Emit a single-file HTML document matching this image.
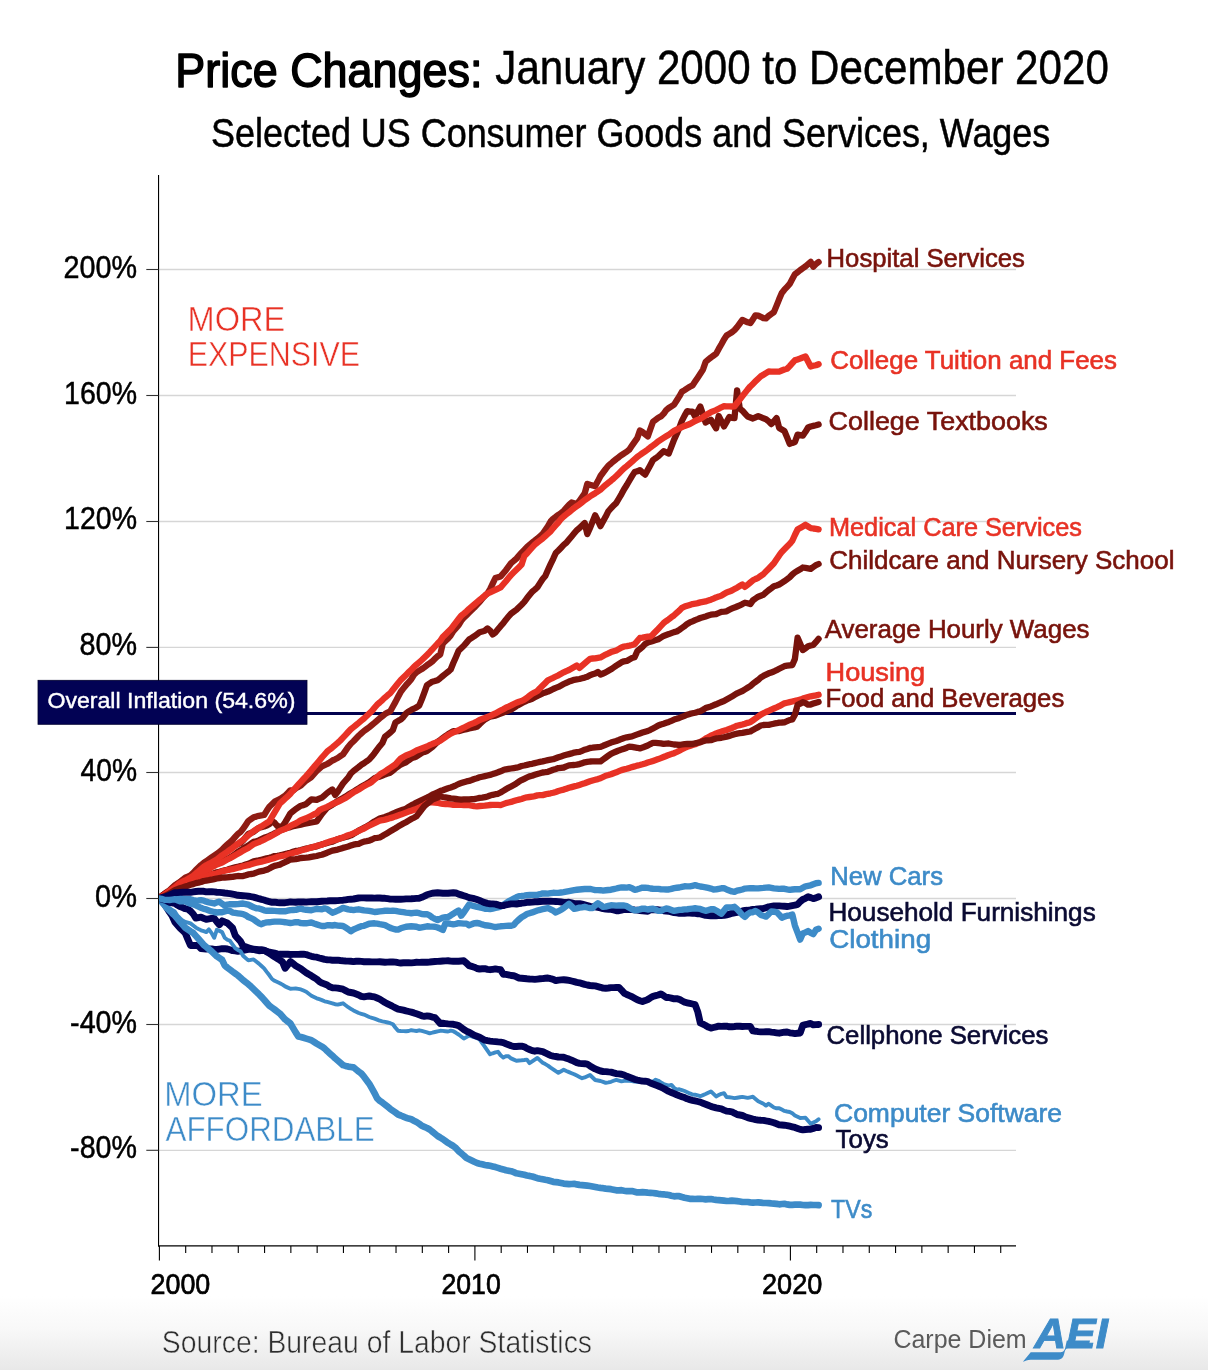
<!DOCTYPE html>
<html lang="en">
<head>
<meta charset="utf-8">
<title>Price Changes: January 2000 to December 2020</title>
<style>
html,body{margin:0;padding:0;background:#fff;}
body{width:1208px;height:1370px;overflow:hidden;position:relative;}
svg{display:block;position:absolute;left:0;top:0;}
svg text{font-family:"Liberation Sans",sans-serif;}
.ln{fill:none;stroke-linejoin:round;stroke-linecap:round;}
</style>
</head>
<body>
<svg width="1208" height="1370" viewBox="0 0 1208 1370">
<defs>
<linearGradient id="bg" x1="0" y1="0" x2="0" y2="1">
<stop offset="0" stop-color="#ffffff"/>
<stop offset="0.45" stop-color="#f8f8f8"/>
<stop offset="1" stop-color="#e8e8e8"/>
</linearGradient>
<clipPath id="plot"><rect x="159.0" y="175" width="1049.0" height="1071"/></clipPath>
</defs>
<rect x="0" y="0" width="1208" height="1370" fill="#ffffff"/>
<rect x="0" y="1296" width="1208" height="74" fill="url(#bg)"/>

<g id="titles">
<text x="175.33" y="87.1" font-size="48.11" fill="#000" textLength="307.14" lengthAdjust="spacingAndGlyphs" stroke="#000" stroke-width="1.5" stroke-linejoin="round">Price Changes:</text>
<text x="495.35" y="83.6" font-size="47.97" fill="#000" textLength="613.48" lengthAdjust="spacingAndGlyphs" stroke="#000" stroke-width="0.5">January 2000 to December 2020</text>
<text x="211.07" y="147.2" font-size="39.83" fill="#000" textLength="839.22" lengthAdjust="spacingAndGlyphs" stroke="#000" stroke-width="0.5">Selected US Consumer Goods and Services, Wages</text>
</g>
<g id="grid" stroke="#d6d6d6" stroke-width="1.3">
<line x1="159.0" y1="1150.30" x2="1016.0" y2="1150.30"/>
<line x1="159.0" y1="1024.50" x2="1016.0" y2="1024.50"/>
<line x1="159.0" y1="898.50" x2="1016.0" y2="898.50"/>
<line x1="159.0" y1="772.50" x2="1016.0" y2="772.50"/>
<line x1="159.0" y1="647.40" x2="1016.0" y2="647.40"/>
<line x1="159.0" y1="521.50" x2="1016.0" y2="521.50"/>
<line x1="159.0" y1="395.50" x2="1016.0" y2="395.50"/>
<line x1="159.0" y1="269.50" x2="1016.0" y2="269.50"/>
</g>
<g id="axes" stroke="#000" stroke-width="1.1">
<line x1="158.55" y1="175" x2="158.55" y2="1246.5"/>
<line x1="158" y1="1245.9" x2="1016.0" y2="1245.9" stroke-width="1.25"/>
<line x1="146.3" y1="1150.30" x2="158.5" y2="1150.30" stroke="#333"/>
<line x1="146.3" y1="1024.50" x2="158.5" y2="1024.50" stroke="#333"/>
<line x1="146.3" y1="898.50" x2="158.5" y2="898.50" stroke="#333"/>
<line x1="146.3" y1="772.50" x2="158.5" y2="772.50" stroke="#333"/>
<line x1="146.3" y1="647.40" x2="158.5" y2="647.40" stroke="#333"/>
<line x1="146.3" y1="521.50" x2="158.5" y2="521.50" stroke="#333"/>
<line x1="146.3" y1="395.50" x2="158.5" y2="395.50" stroke="#333"/>
<line x1="146.3" y1="269.50" x2="158.5" y2="269.50" stroke="#333"/>
<line x1="159.40" y1="1245.9" x2="159.40" y2="1260.6"/>
<line x1="185.69" y1="1245.9" x2="185.69" y2="1252.9"/>
<line x1="211.98" y1="1245.9" x2="211.98" y2="1252.9"/>
<line x1="238.28" y1="1245.9" x2="238.28" y2="1252.9"/>
<line x1="264.57" y1="1245.9" x2="264.57" y2="1252.9"/>
<line x1="290.86" y1="1245.9" x2="290.86" y2="1252.9"/>
<line x1="317.15" y1="1245.9" x2="317.15" y2="1252.9"/>
<line x1="343.44" y1="1245.9" x2="343.44" y2="1252.9"/>
<line x1="369.73" y1="1245.9" x2="369.73" y2="1252.9"/>
<line x1="396.02" y1="1245.9" x2="396.02" y2="1252.9"/>
<line x1="422.32" y1="1245.9" x2="422.32" y2="1252.9"/>
<line x1="448.61" y1="1245.9" x2="448.61" y2="1252.9"/>
<line x1="474.90" y1="1245.9" x2="474.90" y2="1260.6"/>
<line x1="501.19" y1="1245.9" x2="501.19" y2="1252.9"/>
<line x1="527.48" y1="1245.9" x2="527.48" y2="1252.9"/>
<line x1="553.77" y1="1245.9" x2="553.77" y2="1252.9"/>
<line x1="580.07" y1="1245.9" x2="580.07" y2="1252.9"/>
<line x1="606.36" y1="1245.9" x2="606.36" y2="1252.9"/>
<line x1="632.65" y1="1245.9" x2="632.65" y2="1252.9"/>
<line x1="658.94" y1="1245.9" x2="658.94" y2="1252.9"/>
<line x1="685.23" y1="1245.9" x2="685.23" y2="1252.9"/>
<line x1="711.52" y1="1245.9" x2="711.52" y2="1252.9"/>
<line x1="737.82" y1="1245.9" x2="737.82" y2="1252.9"/>
<line x1="764.11" y1="1245.9" x2="764.11" y2="1252.9"/>
<line x1="790.40" y1="1245.9" x2="790.40" y2="1260.6"/>
<line x1="816.69" y1="1245.9" x2="816.69" y2="1252.9"/>
<line x1="842.98" y1="1245.9" x2="842.98" y2="1252.9"/>
<line x1="869.27" y1="1245.9" x2="869.27" y2="1252.9"/>
<line x1="895.57" y1="1245.9" x2="895.57" y2="1252.9"/>
<line x1="921.86" y1="1245.9" x2="921.86" y2="1252.9"/>
<line x1="948.15" y1="1245.9" x2="948.15" y2="1252.9"/>
<line x1="974.44" y1="1245.9" x2="974.44" y2="1252.9"/>
<line x1="1000.73" y1="1245.9" x2="1000.73" y2="1252.9"/>
</g>
<g id="ylabels">
<text x="63.50" y="277.8" font-size="31.54" fill="#000" textLength="73.59" lengthAdjust="spacingAndGlyphs" stroke="#000" stroke-width="0.5">200%</text>
<text x="64.11" y="403.6" font-size="31.54" fill="#000" textLength="72.93" lengthAdjust="spacingAndGlyphs" stroke="#000" stroke-width="0.5">160%</text>
<text x="64.11" y="529.4" font-size="31.54" fill="#000" textLength="72.93" lengthAdjust="spacingAndGlyphs" stroke="#000" stroke-width="0.5">120%</text>
<text x="79.47" y="655.2" font-size="31.54" fill="#000" textLength="57.59" lengthAdjust="spacingAndGlyphs" stroke="#000" stroke-width="0.5">80%</text>
<text x="80.54" y="781.0" font-size="31.54" fill="#000" textLength="56.50" lengthAdjust="spacingAndGlyphs" stroke="#000" stroke-width="0.5">40%</text>
<text x="95.10" y="906.8" font-size="31.54" fill="#000" textLength="41.89" lengthAdjust="spacingAndGlyphs" stroke="#000" stroke-width="0.5">0%</text>
<text x="70.08" y="1032.6" font-size="31.54" fill="#000" textLength="66.94" lengthAdjust="spacingAndGlyphs" stroke="#000" stroke-width="0.5">-40%</text>
<text x="70.08" y="1158.4" font-size="31.54" fill="#000" textLength="66.94" lengthAdjust="spacingAndGlyphs" stroke="#000" stroke-width="0.5">-80%</text>
</g>
<g id="xlabels">
<text x="150.47" y="1294.0" font-size="29.80" fill="#000" textLength="59.84" lengthAdjust="spacingAndGlyphs" stroke="#000" stroke-width="0.7">2000</text>
<text x="441.48" y="1294.0" font-size="29.80" fill="#000" textLength="59.31" lengthAdjust="spacingAndGlyphs" stroke="#000" stroke-width="0.7">2010</text>
<text x="761.97" y="1294.0" font-size="29.80" fill="#000" textLength="60.35" lengthAdjust="spacingAndGlyphs" stroke="#000" stroke-width="0.7">2020</text>
</g>
<g id="notes">
<text x="187.59" y="331.4" font-size="35.76" fill="#e83225" textLength="97.65" lengthAdjust="spacingAndGlyphs" stroke="#ffffff" stroke-width="0.5">MORE</text>
<text x="187.71" y="366.2" font-size="35.76" fill="#e83225" textLength="172.43" lengthAdjust="spacingAndGlyphs" stroke="#ffffff" stroke-width="0.5">EXPENSIVE</text>
<text x="164.29" y="1105.9" font-size="35.76" fill="#3d8bc8" textLength="98.35" lengthAdjust="spacingAndGlyphs" stroke="#ffffff" stroke-width="0.5">MORE</text>
<text x="165.51" y="1140.7" font-size="35.90" fill="#3d8bc8" textLength="209.16" lengthAdjust="spacingAndGlyphs" stroke="#ffffff" stroke-width="0.5">AFFORDABLE</text>
</g>
<line x1="300" y1="713.4" x2="1016.0" y2="713.4" stroke="#02024e" stroke-width="3"/>
<g id="series" clip-path="url(#plot)">
<path class="ln" id="s-textbooks" stroke="#78130c" stroke-width="6.3" d="M159.0,898.5 161.6,895.9 164.3,894.0 166.9,892.6 169.5,891.2 172.1,888.6 174.8,885.9 177.4,884.2 180.0,882.4 182.7,880.4 185.3,878.4 187.9,877.4 190.5,876.4 193.2,875.0 195.8,873.0 198.4,870.3 201.0,867.6 203.7,865.8 206.3,864.2 208.9,862.2 211.6,860.3 214.2,857.8 216.8,855.2 219.4,854.0 222.1,852.9 224.7,851.0 227.3,849.1 230.0,847.7 232.6,846.7 235.2,845.4 237.8,844.2 240.5,842.9 243.1,840.4 245.7,837.2 248.3,834.0 251.0,832.9 253.6,831.8 256.2,829.8 258.9,827.7 261.5,827.1 264.1,826.5 266.7,825.6 269.4,824.0 272.0,821.2 274.6,822.8 277.3,826.0 279.9,826.6 282.5,826.3 285.1,822.4 287.8,817.9 290.4,813.4 293.0,811.3 295.7,809.1 298.3,807.4 300.9,805.7 303.5,805.1 306.2,804.0 308.8,801.6 311.4,799.3 314.0,799.6 316.7,799.9 319.3,798.7 321.9,797.6 324.6,795.3 327.2,793.0 329.8,791.2 332.4,789.5 335.1,794.9 337.7,791.7 340.3,787.6 343.0,783.5 345.6,780.5 348.2,777.6 350.8,773.5 353.5,771.0 356.1,769.0 358.7,767.0 361.3,764.8 364.0,763.2 366.6,761.3 369.2,759.5 371.9,756.4 374.5,753.2 377.1,749.6 379.7,746.2 382.4,743.0 385.0,736.8 387.6,734.7 390.3,732.5 392.9,729.9 395.5,722.4 398.1,720.9 400.8,719.5 403.4,716.9 406.0,713.5 408.6,711.4 411.3,709.9 413.9,708.7 416.5,707.4 419.2,705.6 421.8,699.4 424.4,692.3 427.0,685.1 429.7,683.4 432.3,681.7 434.9,681.0 437.6,680.2 440.2,678.2 442.8,676.0 445.4,673.9 448.1,671.8 450.7,669.5 453.3,663.0 456.0,656.9 458.6,650.8 461.2,648.3 463.8,645.8 466.5,642.6 469.1,639.5 471.7,637.9 474.3,636.2 477.0,634.2 479.6,632.2 482.2,631.5 484.9,630.7 487.5,628.4 490.1,630.6 492.7,634.5 495.4,632.4 498.0,629.3 500.6,626.2 503.3,623.2 505.9,619.7 508.5,616.6 511.1,613.6 513.8,611.7 516.4,609.8 519.0,607.2 521.6,604.7 524.3,601.9 526.9,598.3 529.5,595.0 532.2,591.7 534.8,589.6 537.4,587.2 540.0,583.1 542.7,579.0 545.3,575.9 547.9,570.0 550.6,564.1 553.2,558.8 555.8,553.0 558.4,550.5 561.1,547.7 563.7,544.9 566.3,542.8 569.0,539.5 571.6,536.4 574.2,533.3 576.8,530.2 579.5,528.1 582.1,525.5 584.7,523.0 587.3,534.1 590.0,527.9 592.6,521.6 595.2,515.3 597.9,520.7 600.5,526.1 603.1,521.3 605.7,516.6 608.4,511.2 611.0,508.2 613.6,505.6 616.3,502.9 618.9,498.5 621.5,494.1 624.1,489.2 626.8,485.0 629.4,480.5 632.0,476.1 634.6,472.1 637.3,471.3 639.9,470.1 642.5,472.5 645.2,474.6 647.8,469.8 650.4,464.9 653.0,460.0 655.7,458.2 658.3,456.3 660.9,453.8 663.6,451.2 666.2,452.4 668.8,453.5 671.4,446.6 674.1,439.6 676.7,434.0 679.3,427.9 681.9,420.9 684.6,415.6 687.2,411.1 689.8,411.6 692.5,411.6 695.1,416.5 697.7,411.5 700.3,406.6 703.0,414.6 705.6,422.5 708.2,421.1 710.9,419.7 713.5,424.0 716.1,428.3 718.7,416.0 721.4,421.1 724.0,426.4 726.6,421.9 729.3,417.0 731.9,417.8 734.5,418.0 737.1,390.3 739.8,408.6 742.4,410.7 745.0,413.6 747.6,416.5 750.3,417.5 752.9,418.5 755.5,417.3 758.2,416.1 760.8,417.2 763.4,418.3 766.0,419.2 768.7,421.4 771.3,424.1 773.9,421.3 776.6,418.1 779.2,428.0 781.8,429.5 784.4,431.0 787.1,437.4 789.7,443.9 792.3,442.9 794.9,442.0 797.6,434.6 800.2,435.1 802.8,435.6 805.5,431.8 808.1,427.5 810.7,426.5 813.3,425.9 816.0,425.3 818.6,424.5"/>
<path class="ln" id="s-hospital" stroke="#8f1c14" stroke-width="6.3" d="M159.0,898.5 161.6,896.2 164.3,894.1 166.9,892.1 169.5,890.2 172.1,887.8 174.8,885.4 177.4,883.6 180.0,881.9 182.7,879.8 185.3,877.7 187.9,876.5 190.5,875.3 193.2,873.0 195.8,870.0 198.4,867.6 201.0,865.1 203.7,862.9 206.3,861.2 208.9,859.3 211.6,857.4 214.2,855.7 216.8,854.0 219.4,851.9 222.1,849.7 224.7,847.0 227.3,844.4 230.0,842.3 232.6,839.9 235.2,836.9 237.8,834.0 240.5,832.0 243.1,828.8 245.7,824.9 248.3,821.0 251.0,819.1 253.6,817.3 256.2,816.6 258.9,815.8 261.5,815.4 264.1,815.0 266.7,810.8 269.4,806.7 272.0,804.2 274.6,801.7 277.3,800.4 279.9,799.1 282.5,797.4 285.1,795.7 287.8,793.0 290.4,790.3 293.0,790.7 295.7,788.3 298.3,786.9 300.9,785.5 303.5,783.0 306.2,780.5 308.8,778.8 311.4,777.1 314.0,774.0 316.7,770.9 319.3,768.6 321.9,766.4 324.6,765.2 327.2,764.0 329.8,762.3 332.4,760.5 335.1,759.3 337.7,758.0 340.3,756.2 343.0,754.4 345.6,750.6 348.2,746.9 350.8,743.7 353.5,741.2 356.1,738.5 358.7,735.8 361.3,733.4 364.0,731.0 366.6,729.1 369.2,727.2 371.9,725.0 374.5,722.9 377.1,720.6 379.7,718.3 382.4,716.2 385.0,714.1 387.6,712.6 390.3,711.2 392.9,706.5 395.5,701.9 398.1,696.8 400.8,691.7 403.4,688.4 406.0,685.2 408.6,682.3 411.3,679.2 413.9,674.8 416.5,672.2 419.2,670.6 421.8,669.1 424.4,667.2 427.0,665.2 429.7,663.3 432.3,661.4 434.9,658.8 437.6,656.2 440.2,654.6 442.8,643.6 445.4,641.1 448.1,638.5 450.7,635.4 453.3,631.1 456.0,628.1 458.6,625.2 461.2,620.8 463.8,617.8 466.5,615.2 469.1,612.6 471.7,610.1 474.3,607.6 477.0,604.7 479.6,601.8 482.2,598.8 484.9,595.7 487.5,593.4 490.1,589.2 492.7,583.6 495.4,578.0 498.0,577.2 500.6,576.4 503.3,573.3 505.9,570.2 508.5,566.7 511.1,563.1 513.8,560.9 516.4,558.6 519.0,555.6 521.6,552.7 524.3,549.9 526.9,547.2 529.5,544.9 532.2,542.5 534.8,540.6 537.4,538.6 540.0,536.2 542.7,533.7 545.3,530.0 547.9,526.3 550.6,521.5 553.2,518.7 555.8,516.8 558.4,514.8 561.1,513.0 563.7,510.9 566.3,507.9 569.0,504.9 571.6,502.5 574.2,503.2 576.8,504.0 579.5,500.8 582.1,497.1 584.7,493.4 587.3,483.9 590.0,484.8 592.6,485.5 595.2,486.1 597.9,481.1 600.5,476.0 603.1,472.5 605.7,469.0 608.4,465.6 611.0,463.5 613.6,461.2 616.3,459.0 618.9,457.1 621.5,455.1 624.1,453.3 626.8,451.6 629.4,449.5 632.0,445.6 634.6,441.9 637.3,438.1 639.9,430.5 642.5,432.0 645.2,434.2 647.8,436.4 650.4,429.0 653.0,421.7 655.7,419.7 658.3,417.7 660.9,416.4 663.6,413.8 666.2,410.2 668.8,408.0 671.4,406.3 674.1,404.6 676.7,400.5 679.3,396.4 681.9,391.7 684.6,390.1 687.2,388.4 689.8,386.8 692.5,385.4 695.1,381.5 697.7,377.7 700.3,373.8 703.0,369.6 705.6,361.9 708.2,359.7 710.9,357.5 713.5,355.6 716.1,353.7 718.7,348.9 721.4,344.2 724.0,339.4 726.6,335.5 729.3,333.8 731.9,332.2 734.5,330.1 737.1,327.1 739.8,323.5 742.4,319.9 745.0,321.1 747.6,322.3 750.3,323.1 752.9,319.4 755.5,315.3 758.2,315.6 760.8,316.8 763.4,318.1 766.0,318.4 768.7,315.9 771.3,314.0 773.9,312.1 776.6,305.6 779.2,299.1 781.8,293.0 784.4,289.7 787.1,286.8 789.7,283.9 792.3,279.1 794.9,274.3 797.6,272.2 800.2,270.1 802.8,268.2 805.5,266.3 808.1,264.1 810.7,261.9 813.3,266.7 816.0,264.1 818.6,262.1"/>
<path class="ln" id="s-childcare" stroke="#78130c" stroke-width="6.3" d="M159.0,898.5 161.6,896.6 164.3,894.5 166.9,893.2 169.5,891.9 172.1,889.7 174.8,887.6 177.4,885.9 180.0,884.2 182.7,882.9 185.3,881.7 187.9,880.8 190.5,879.9 193.2,878.4 195.8,876.4 198.4,874.8 201.0,873.2 203.7,871.3 206.3,869.8 208.9,868.1 211.6,866.4 214.2,865.1 216.8,863.7 219.4,862.7 222.1,861.7 224.7,860.3 227.3,858.8 230.0,857.5 232.6,855.9 235.2,853.9 237.8,851.9 240.5,850.3 243.1,848.6 245.7,847.1 248.3,845.5 251.0,843.7 253.6,841.9 256.2,841.2 258.9,840.4 261.5,839.1 264.1,837.8 266.7,836.9 269.4,835.9 272.0,834.7 274.6,833.4 277.3,832.0 279.9,830.6 282.5,829.6 285.1,828.6 287.8,827.8 290.4,827.1 293.0,826.3 295.7,825.6 298.3,825.1 300.9,824.6 303.5,824.0 306.2,823.5 308.8,823.0 311.4,822.5 314.0,822.0 316.7,821.4 319.3,817.7 321.9,814.0 324.6,810.8 327.2,807.7 329.8,806.2 332.4,804.7 335.1,802.8 337.7,800.9 340.3,799.5 343.0,798.1 345.6,796.6 348.2,794.8 350.8,793.2 353.5,791.6 356.1,790.0 358.7,788.4 361.3,786.8 364.0,785.2 366.6,783.8 369.2,782.3 371.9,780.2 374.5,778.2 377.1,777.2 379.7,776.6 382.4,775.5 385.0,774.4 387.6,773.6 390.3,772.7 392.9,770.5 395.5,768.3 398.1,766.4 400.8,764.5 403.4,763.4 406.0,762.3 408.6,760.3 411.3,758.4 413.9,757.4 416.5,756.5 419.2,754.7 421.8,752.9 424.4,751.9 427.0,751.0 429.7,749.0 432.3,747.0 434.9,744.4 437.6,741.9 440.2,740.0 442.8,738.0 445.4,736.1 448.1,734.3 450.7,732.7 453.3,731.1 456.0,731.1 458.6,731.1 461.2,730.4 463.8,729.8 466.5,729.1 469.1,728.4 471.7,727.9 474.3,727.5 477.0,726.8 479.6,724.2 482.2,721.8 484.9,719.4 487.5,718.0 490.1,716.6 492.7,716.2 495.4,715.7 498.0,714.6 500.6,713.6 503.3,712.5 505.9,711.4 508.5,710.5 511.1,709.6 513.8,707.9 516.4,706.1 519.0,704.7 521.6,703.3 524.3,701.8 526.9,700.6 529.5,699.7 532.2,698.7 534.8,697.3 537.4,695.9 540.0,694.6 542.7,693.3 545.3,692.5 547.9,691.6 550.6,690.3 553.2,689.0 555.8,687.9 558.4,686.9 561.1,685.4 563.7,684.0 566.3,682.8 569.0,681.6 571.6,680.7 574.2,679.8 576.8,679.4 579.5,679.0 582.1,678.3 584.7,677.6 587.3,676.8 590.0,675.2 592.6,674.3 595.2,673.5 597.9,672.0 600.5,674.6 603.1,673.5 605.7,672.4 608.4,670.8 611.0,669.3 613.6,667.5 616.3,665.6 618.9,664.0 621.5,662.3 624.1,661.3 626.8,660.9 629.4,659.4 632.0,658.0 634.6,657.3 637.3,651.2 639.9,649.0 642.5,646.8 645.2,643.9 647.8,642.4 650.4,641.7 653.0,640.9 655.7,640.1 658.3,639.2 660.9,637.6 663.6,635.9 666.2,635.0 668.8,634.1 671.4,633.1 674.1,632.1 676.7,631.5 679.3,629.8 681.9,628.0 684.6,626.2 687.2,623.9 689.8,622.4 692.5,621.3 695.1,620.1 697.7,619.1 700.3,618.0 703.0,617.2 705.6,616.4 708.2,615.5 710.9,614.7 713.5,614.4 716.1,614.2 718.7,613.0 721.4,611.8 724.0,611.6 726.6,611.3 729.3,609.8 731.9,608.4 734.5,607.6 737.1,606.5 739.8,605.3 742.4,604.1 745.0,602.7 747.6,603.3 750.3,604.1 752.9,600.4 755.5,598.5 758.2,596.7 760.8,595.7 763.4,594.8 766.0,592.4 768.7,590.1 771.3,588.2 773.9,586.2 776.6,585.4 779.2,584.5 781.8,582.9 784.4,581.2 787.1,579.2 789.7,577.2 792.3,574.5 794.9,572.4 797.6,570.8 800.2,569.3 802.8,567.5 805.5,567.9 808.1,568.3 810.7,568.8 813.3,567.0 816.0,565.2 818.6,564.0"/>
<path class="ln" id="s-wages" stroke="#78130c" stroke-width="6.3" d="M159.0,898.5 161.6,896.9 164.3,895.5 166.9,894.2 169.5,892.9 172.1,891.4 174.8,889.9 177.4,888.3 180.0,886.8 182.7,885.7 185.3,884.5 187.9,883.5 190.5,882.5 193.2,881.4 195.8,880.1 198.4,879.2 201.0,878.2 203.7,876.8 206.3,875.9 208.9,875.1 211.6,874.3 214.2,873.3 216.8,872.3 219.4,871.7 222.1,871.0 224.7,870.3 227.3,869.7 230.0,868.8 232.6,868.1 235.2,867.4 237.8,866.7 240.5,866.1 243.1,865.5 245.7,864.6 248.3,863.8 251.0,862.6 253.6,861.4 256.2,860.9 258.9,860.4 261.5,859.7 264.1,859.0 266.7,858.3 269.4,857.8 272.0,857.0 274.6,856.1 277.3,855.8 279.9,855.4 282.5,854.7 285.1,854.0 287.8,853.4 290.4,852.7 293.0,851.8 295.7,850.9 298.3,850.5 300.9,850.0 303.5,849.3 306.2,848.6 308.8,848.0 311.4,847.3 314.0,846.8 316.7,846.3 319.3,845.3 321.9,844.4 324.6,843.7 327.2,843.0 329.8,842.3 332.4,841.7 335.1,840.4 337.7,839.2 340.3,838.4 343.0,837.7 345.6,837.0 348.2,836.4 350.8,835.4 353.5,833.9 356.1,832.3 358.7,830.6 361.3,829.3 364.0,827.9 366.6,826.5 369.2,825.0 371.9,823.2 374.5,821.4 377.1,820.0 379.7,818.6 382.4,817.7 385.0,816.9 387.6,815.9 390.3,814.9 392.9,813.7 395.5,812.5 398.1,811.5 400.8,810.5 403.4,809.6 406.0,808.6 408.6,807.0 411.3,805.3 413.9,804.0 416.5,802.6 419.2,801.3 421.8,800.0 424.4,798.8 427.0,797.6 429.7,796.2 432.3,794.7 434.9,793.5 437.6,792.3 440.2,791.1 442.8,790.2 445.4,789.2 448.1,788.2 450.7,787.4 453.3,786.5 456.0,785.3 458.6,784.0 461.2,783.1 463.8,782.2 466.5,781.4 469.1,780.9 471.7,780.0 474.3,779.0 477.0,778.2 479.6,777.3 482.2,776.7 484.9,776.1 487.5,775.5 490.1,774.9 492.7,774.1 495.4,773.2 498.0,772.3 500.6,771.3 503.3,770.1 505.9,769.3 508.5,768.9 511.1,768.5 513.8,768.1 516.4,767.7 519.0,766.9 521.6,766.0 524.3,765.5 526.9,764.9 529.5,764.2 532.2,763.8 534.8,763.1 537.4,762.5 540.0,761.9 542.7,761.4 545.3,760.7 547.9,760.1 550.6,759.6 553.2,759.2 555.8,758.2 558.4,757.2 561.1,756.4 563.7,755.6 566.3,754.8 569.0,754.1 571.6,753.4 574.2,752.6 576.8,752.2 579.5,751.9 582.1,750.8 584.7,749.7 587.3,748.9 590.0,748.0 592.6,747.7 595.2,747.3 597.9,747.1 600.5,746.9 603.1,745.8 605.7,744.8 608.4,743.7 611.0,742.6 613.6,741.8 616.3,741.0 618.9,740.0 621.5,738.9 624.1,738.0 626.8,737.3 629.4,736.8 632.0,736.4 634.6,735.4 637.3,734.4 639.9,733.5 642.5,732.6 645.2,731.8 647.8,731.0 650.4,729.8 653.0,728.4 655.7,727.0 658.3,725.5 660.9,724.5 663.6,723.7 666.2,722.8 668.8,721.9 671.4,720.8 674.1,719.6 676.7,718.8 679.3,717.9 681.9,716.9 684.6,715.8 687.2,714.7 689.8,713.9 692.5,713.3 695.1,712.7 697.7,711.9 700.3,711.2 703.0,709.7 705.6,708.1 708.2,707.2 710.9,706.4 713.5,705.3 716.1,704.3 718.7,703.1 721.4,702.0 724.0,701.0 726.6,699.5 729.3,698.0 731.9,696.6 734.5,694.9 737.1,693.3 739.8,692.1 742.4,691.0 745.0,689.4 747.6,687.8 750.3,686.1 752.9,683.8 755.5,681.9 758.2,679.9 760.8,677.4 763.4,675.9 766.0,674.6 768.7,673.3 771.3,672.4 773.9,671.5 776.6,670.2 779.2,668.8 781.8,667.5 784.4,666.2 787.1,665.7 789.7,665.3 792.3,665.0 794.9,658.9 797.6,637.7 800.2,643.7 802.8,650.0 805.5,648.3 808.1,646.3 810.7,645.5 813.3,644.9 816.0,641.9 818.6,638.8"/>
<path class="ln" id="s-tuition" stroke="#e83225" stroke-width="6.3" d="M159.0,898.5 161.6,896.6 164.3,894.9 166.9,893.0 169.5,891.1 172.1,889.2 174.8,887.4 177.4,885.2 180.0,883.0 182.7,881.7 185.3,880.4 187.9,879.0 190.5,877.5 193.2,875.8 195.8,873.5 198.4,871.4 201.0,869.2 203.7,866.9 206.3,865.2 208.9,863.9 211.6,862.6 214.2,861.1 216.8,859.6 219.4,857.4 222.1,855.3 224.7,853.6 227.3,851.9 230.0,849.9 232.6,848.0 235.2,845.9 237.8,843.8 240.5,841.9 243.1,840.0 245.7,837.6 248.3,835.3 251.0,833.2 253.6,831.1 256.2,829.5 258.9,827.9 261.5,826.3 264.1,824.6 266.7,823.0 269.4,821.4 272.0,816.8 274.6,812.3 277.3,807.9 279.9,803.5 282.5,801.1 285.1,798.7 287.8,796.4 290.4,793.7 293.0,790.6 295.7,787.6 298.3,784.7 300.9,781.8 303.5,779.0 306.2,776.1 308.8,773.1 311.4,770.1 314.0,766.9 316.7,763.8 319.3,760.7 321.9,757.5 324.6,754.5 327.2,751.5 329.8,749.4 332.4,747.4 335.1,745.1 337.7,742.9 340.3,740.5 343.0,737.6 345.6,734.8 348.2,732.0 350.8,729.3 353.5,727.1 356.1,725.0 358.7,722.9 361.3,720.7 364.0,718.5 366.6,716.0 369.2,713.5 371.9,710.9 374.5,707.7 377.1,704.7 379.7,702.5 382.4,700.1 385.0,697.6 387.6,695.3 390.3,693.1 392.9,689.8 395.5,686.5 398.1,683.2 400.8,680.0 403.4,677.4 406.0,674.9 408.6,672.3 411.3,669.7 413.9,667.1 416.5,664.6 419.2,662.3 421.8,660.0 424.4,657.5 427.0,654.9 429.7,652.2 432.3,649.4 434.9,646.5 437.6,643.6 440.2,641.0 442.8,637.0 445.4,634.4 448.1,631.8 450.7,629.3 453.3,625.9 456.0,622.4 458.6,619.0 461.2,615.7 463.8,613.6 466.5,611.3 469.1,608.9 471.7,606.7 474.3,604.5 477.0,602.2 479.6,600.0 482.2,597.8 484.9,595.7 487.5,593.5 490.1,592.3 492.7,591.1 495.4,589.9 498.0,588.6 500.6,587.4 503.3,584.3 505.9,581.3 508.5,578.1 511.1,574.9 513.8,572.3 516.4,569.8 519.0,567.2 521.6,564.6 524.3,556.1 526.9,553.5 529.5,550.5 532.2,547.5 534.8,544.7 537.4,542.5 540.0,540.5 542.7,538.4 545.3,536.1 547.9,533.7 550.6,531.3 553.2,528.1 555.8,525.2 558.4,522.3 561.1,518.9 563.7,516.5 566.3,514.4 569.0,512.3 571.6,510.1 574.2,508.0 576.8,506.1 579.5,504.3 582.1,502.2 584.7,500.1 587.3,498.3 590.0,496.4 592.6,494.8 595.2,493.2 597.9,491.4 600.5,489.7 603.1,487.3 605.7,484.9 608.4,482.8 611.0,480.7 613.6,478.5 616.3,476.0 618.9,473.4 621.5,470.8 624.1,468.3 626.8,466.1 629.4,463.8 632.0,461.6 634.6,459.2 637.3,456.8 639.9,455.0 642.5,453.1 645.2,451.3 647.8,449.5 650.4,447.4 653.0,445.5 655.7,443.4 658.3,441.3 660.9,439.6 663.6,437.9 666.2,436.3 668.8,434.7 671.4,432.8 674.1,430.9 676.7,429.6 679.3,428.3 681.9,427.1 684.6,425.9 687.2,425.0 689.8,424.0 692.5,422.5 695.1,421.0 697.7,419.9 700.3,418.8 703.0,417.1 705.6,415.4 708.2,413.8 710.9,412.2 713.5,411.1 716.1,410.1 718.7,408.7 721.4,407.3 724.0,406.2 726.6,406.3 729.3,406.4 731.9,406.5 734.5,406.4 737.1,403.0 739.8,399.6 742.4,396.2 745.0,392.9 747.6,389.6 750.3,386.4 752.9,383.9 755.5,381.3 758.2,378.7 760.8,376.3 763.4,374.7 766.0,373.1 768.7,371.5 771.3,371.6 773.9,371.7 776.6,371.6 779.2,371.6 781.8,370.5 784.4,369.5 787.1,368.8 789.7,366.1 792.3,363.2 794.9,360.3 797.6,359.4 800.2,358.5 802.8,357.5 805.5,356.5 808.1,361.5 810.7,366.5 813.3,365.8 816.0,365.2 818.6,364.2"/>
<path class="ln" id="s-medical" stroke="#e83225" stroke-width="6.3" d="M159.0,898.5 161.6,896.7 164.3,895.2 166.9,893.4 169.5,891.6 172.1,889.8 174.8,887.9 177.4,886.3 180.0,884.7 182.7,883.4 185.3,882.0 187.9,880.8 190.5,879.6 193.2,878.5 195.8,876.9 198.4,875.0 201.0,873.0 203.7,871.6 206.3,870.4 208.9,868.9 211.6,867.3 214.2,865.9 216.8,864.5 219.4,863.5 222.1,862.5 224.7,861.0 227.3,859.6 230.0,858.2 232.6,856.7 235.2,855.2 237.8,853.8 240.5,852.2 243.1,850.6 245.7,849.3 248.3,847.9 251.0,846.0 253.6,844.2 256.2,843.1 258.9,842.1 261.5,840.8 264.1,839.6 266.7,838.3 269.4,836.9 272.0,835.5 274.6,834.0 277.3,832.5 279.9,830.9 282.5,829.9 285.1,828.9 287.8,827.4 290.4,825.9 293.0,824.7 295.7,823.5 298.3,821.9 300.9,820.2 303.5,819.3 306.2,818.3 308.8,817.0 311.4,815.7 314.0,814.4 316.7,813.1 319.3,810.3 321.9,808.9 324.6,807.9 327.2,806.8 329.8,805.4 332.4,804.0 335.1,803.0 337.7,801.9 340.3,800.6 343.0,799.2 345.6,797.9 348.2,796.1 350.8,794.2 353.5,792.3 356.1,790.9 358.7,789.5 361.3,787.8 364.0,786.1 366.6,784.8 369.2,783.5 371.9,781.8 374.5,779.4 377.1,777.1 379.7,774.7 382.4,772.9 385.0,771.5 387.6,769.7 390.3,767.9 392.9,766.1 395.5,764.3 398.1,761.4 400.8,758.5 403.4,757.0 406.0,755.5 408.6,754.5 411.3,753.4 413.9,751.9 416.5,750.5 419.2,749.5 421.8,748.5 424.4,747.5 427.0,746.5 429.7,745.2 432.3,744.0 434.9,743.0 437.6,742.1 440.2,740.7 442.8,738.9 445.4,737.1 448.1,735.2 450.7,733.6 453.3,732.4 456.0,731.3 458.6,730.2 461.2,728.9 463.8,727.7 466.5,726.3 469.1,724.9 471.7,723.9 474.3,722.9 477.0,721.5 479.6,720.0 482.2,719.0 484.9,718.0 487.5,716.9 490.1,715.8 492.7,714.6 495.4,713.4 498.0,712.0 500.6,710.6 503.3,709.2 505.9,707.7 508.5,706.6 511.1,705.4 513.8,704.0 516.4,702.7 519.0,701.8 521.6,701.0 524.3,699.7 526.9,697.9 529.5,695.8 532.2,693.7 534.8,692.4 537.4,691.0 540.0,688.2 542.7,685.5 545.3,682.9 547.9,680.3 550.6,679.0 553.2,677.8 555.8,676.5 558.4,675.3 561.1,673.7 563.7,672.3 566.3,671.1 569.0,670.0 571.6,668.5 574.2,667.0 576.8,665.5 579.5,667.9 582.1,665.6 584.7,663.3 587.3,661.1 590.0,658.8 592.6,658.5 595.2,658.3 597.9,657.8 600.5,657.4 603.1,656.0 605.7,654.6 608.4,653.4 611.0,652.1 613.6,651.2 616.3,650.4 618.9,649.0 621.5,647.5 624.1,646.5 626.8,646.1 629.4,645.6 632.0,645.0 634.6,644.2 637.3,641.0 639.9,638.0 642.5,637.7 645.2,637.2 647.8,636.7 650.4,636.6 653.0,634.3 655.7,631.6 658.3,628.9 660.9,626.0 663.6,623.1 666.2,621.1 668.8,619.2 671.4,617.2 674.1,615.3 676.7,612.9 679.3,610.6 681.9,607.8 684.6,606.6 687.2,605.7 689.8,604.9 692.5,604.1 695.1,603.7 697.7,603.1 700.3,602.4 703.0,601.9 705.6,601.4 708.2,600.6 710.9,599.7 713.5,598.6 716.1,597.4 718.7,596.6 721.4,595.6 724.0,594.0 726.6,592.5 729.3,591.6 731.9,590.5 734.5,589.1 737.1,587.7 739.8,586.0 742.4,584.4 745.0,586.9 747.6,584.8 750.3,582.5 752.9,580.3 755.5,579.0 758.2,577.8 760.8,575.9 763.4,574.1 766.0,571.4 768.7,568.7 771.3,566.0 773.9,563.3 776.6,559.3 779.2,555.4 781.8,551.9 784.4,549.3 787.1,546.6 789.7,543.9 792.3,540.8 794.9,535.0 797.6,529.5 800.2,527.9 802.8,526.4 805.5,524.8 808.1,526.5 810.7,528.1 813.3,528.5 816.0,528.8 818.6,529.3"/>
<path class="ln" id="s-housing" stroke="#e83225" stroke-width="6.3" d="M159.0,898.5 161.6,896.8 164.3,895.4 166.9,894.0 169.5,892.5 172.1,891.3 174.8,890.1 177.4,888.6 180.0,887.2 182.7,886.2 185.3,885.2 187.9,883.9 190.5,882.6 193.2,881.8 195.8,880.7 198.4,879.6 201.0,878.4 203.7,877.2 206.3,876.4 208.9,875.4 211.6,874.4 214.2,873.9 216.8,873.5 219.4,872.4 222.1,871.4 224.7,870.7 227.3,870.1 230.0,869.6 232.6,869.2 235.2,868.5 237.8,867.8 240.5,867.1 243.1,866.3 245.7,865.7 248.3,865.2 251.0,864.3 253.6,863.5 256.2,862.8 258.9,862.1 261.5,861.6 264.1,861.0 266.7,860.3 269.4,859.4 272.0,858.7 274.6,857.9 277.3,857.1 279.9,856.3 282.5,855.9 285.1,855.5 287.8,854.6 290.4,853.7 293.0,853.0 295.7,852.3 298.3,851.4 300.9,850.5 303.5,849.8 306.2,849.1 308.8,848.3 311.4,847.6 314.0,846.7 316.7,845.9 319.3,845.3 321.9,844.6 324.6,843.5 327.2,842.4 329.8,841.6 332.4,840.8 335.1,840.0 337.7,839.3 340.3,838.3 343.0,837.4 345.6,836.3 348.2,835.3 350.8,834.4 353.5,833.3 356.1,832.1 358.7,830.9 361.3,829.7 364.0,828.5 366.6,827.0 369.2,825.6 371.9,824.4 374.5,823.2 377.1,821.9 379.7,820.7 382.4,820.2 385.0,819.6 387.6,818.9 390.3,818.1 392.9,817.4 395.5,816.4 398.1,815.5 400.8,814.6 403.4,813.6 406.0,812.6 408.6,811.6 411.3,810.7 413.9,809.8 416.5,808.9 419.2,807.7 421.8,806.4 424.4,804.9 427.0,803.3 429.7,802.1 432.3,802.4 434.9,802.6 437.6,802.8 440.2,803.4 442.8,803.9 445.4,804.0 448.1,804.1 450.7,804.5 453.3,804.9 456.0,804.9 458.6,804.8 461.2,804.9 463.8,805.0 466.5,805.0 469.1,805.2 471.7,805.6 474.3,806.1 477.0,806.3 479.6,806.0 482.2,805.8 484.9,805.7 487.5,805.3 490.1,805.0 492.7,804.9 495.4,804.8 498.0,804.9 500.6,805.1 503.3,804.1 505.9,803.1 508.5,802.5 511.1,801.9 513.8,801.0 516.4,800.2 519.0,799.6 521.6,799.0 524.3,798.1 526.9,797.3 529.5,797.0 532.2,796.7 534.8,796.1 537.4,795.4 540.0,795.2 542.7,795.1 545.3,794.4 547.9,793.8 550.6,793.3 553.2,792.7 555.8,791.9 558.4,791.0 561.1,790.3 563.7,789.6 566.3,788.7 569.0,787.8 571.6,787.1 574.2,786.4 576.8,785.7 579.5,784.9 582.1,784.1 584.7,783.3 587.3,782.3 590.0,781.3 592.6,780.5 595.2,779.8 597.9,779.1 600.5,778.3 603.1,777.0 605.7,775.7 608.4,775.0 611.0,774.2 613.6,773.2 616.3,772.3 618.9,771.2 621.5,770.1 624.1,769.4 626.8,768.8 629.4,767.9 632.0,767.1 634.6,766.4 637.3,765.6 639.9,765.0 642.5,764.3 645.2,763.5 647.8,762.6 650.4,761.8 653.0,760.9 655.7,760.0 658.3,759.1 660.9,758.1 663.6,757.0 666.2,756.0 668.8,754.9 671.4,754.1 674.1,753.2 676.7,752.0 679.3,750.7 681.9,749.3 684.6,747.9 687.2,746.8 689.8,746.0 692.5,745.1 695.1,744.3 697.7,743.1 700.3,742.0 703.0,740.3 705.6,738.6 708.2,737.2 710.9,735.7 713.5,734.6 716.1,733.5 718.7,732.6 721.4,731.6 724.0,730.8 726.6,730.0 729.3,729.0 731.9,728.0 734.5,726.9 737.1,725.7 739.8,725.1 742.4,724.5 745.0,723.7 747.6,722.8 750.3,722.2 752.9,720.4 755.5,718.5 758.2,716.5 760.8,714.6 763.4,713.3 766.0,712.0 768.7,710.8 771.3,709.6 773.9,708.5 776.6,707.4 779.2,706.2 781.8,704.7 784.4,703.3 787.1,702.7 789.7,702.1 792.3,701.5 794.9,700.9 797.6,700.2 800.2,699.6 802.8,698.6 805.5,697.8 808.1,697.0 810.7,696.3 813.3,695.8 816.0,695.4 818.6,694.8"/>
<path class="ln" id="s-food" stroke="#78130c" stroke-width="6.3" d="M159.0,898.5 161.6,897.4 164.3,896.2 166.9,894.9 169.5,893.5 172.1,891.9 174.8,890.2 177.4,889.3 180.0,888.3 182.7,887.4 185.3,886.5 187.9,885.7 190.5,884.8 193.2,884.1 195.8,883.1 198.4,882.6 201.0,882.0 203.7,881.0 206.3,880.6 208.9,880.2 211.6,879.7 214.2,879.1 216.8,878.5 219.4,878.1 222.1,877.7 224.7,877.5 227.3,877.3 230.0,877.0 232.6,876.9 235.2,876.4 237.8,876.0 240.5,876.1 243.1,876.1 245.7,875.3 248.3,874.4 251.0,874.0 253.6,873.7 256.2,872.6 258.9,871.6 261.5,871.1 264.1,870.6 266.7,869.8 269.4,868.5 272.0,867.0 274.6,865.9 277.3,865.2 279.9,864.6 282.5,863.3 285.1,862.1 287.8,860.8 290.4,859.5 293.0,859.3 295.7,859.1 298.3,858.6 300.9,858.0 303.5,857.9 306.2,857.7 308.8,857.3 311.4,856.8 314.0,856.4 316.7,856.0 319.3,855.3 321.9,854.7 324.6,853.7 327.2,852.7 329.8,851.6 332.4,850.6 335.1,850.1 337.7,849.6 340.3,848.8 343.0,847.9 345.6,847.2 348.2,846.5 350.8,845.6 353.5,844.7 356.1,844.2 358.7,843.8 361.3,842.7 364.0,841.6 366.6,841.2 369.2,840.7 371.9,839.5 374.5,838.2 377.1,837.9 379.7,837.5 382.4,836.0 385.0,834.4 387.6,832.9 390.3,831.3 392.9,829.7 395.5,828.2 398.1,826.6 400.8,825.1 403.4,823.6 406.0,822.2 408.6,820.6 411.3,819.0 413.9,817.7 416.5,816.3 419.2,812.9 421.8,809.4 424.4,806.0 427.0,803.9 429.7,801.7 432.3,799.5 434.9,798.5 437.6,797.5 440.2,796.3 442.8,797.0 445.4,797.4 448.1,797.8 450.7,798.4 453.3,798.7 456.0,799.0 458.6,799.3 461.2,799.6 463.8,799.4 466.5,799.3 469.1,799.3 471.7,799.2 474.3,799.1 477.0,798.5 479.6,797.9 482.2,797.6 484.9,797.2 487.5,796.4 490.1,795.5 492.7,794.8 495.4,794.2 498.0,793.8 500.6,792.5 503.3,790.9 505.9,789.3 508.5,787.8 511.1,786.4 513.8,784.9 516.4,783.4 519.0,781.6 521.6,780.1 524.3,778.8 526.9,777.5 529.5,776.3 532.2,775.7 534.8,774.8 537.4,774.0 540.0,773.3 542.7,772.5 545.3,772.2 547.9,771.8 550.6,770.8 553.2,769.8 555.8,769.0 558.4,768.1 561.1,767.8 563.7,767.5 566.3,766.4 569.0,765.4 571.6,765.2 574.2,765.0 576.8,764.6 579.5,764.1 582.1,763.2 584.7,762.3 587.3,761.9 590.0,761.5 592.6,761.4 595.2,761.3 597.9,761.3 600.5,761.4 603.1,759.5 605.7,757.6 608.4,755.7 611.0,753.9 613.6,752.7 616.3,751.5 618.9,750.4 621.5,749.6 624.1,748.7 626.8,747.7 629.4,746.6 632.0,746.8 634.6,747.3 637.3,747.8 639.9,748.4 642.5,747.6 645.2,746.5 647.8,745.5 650.4,744.1 653.0,742.8 655.7,742.9 658.3,743.1 660.9,743.3 663.6,743.8 666.2,743.6 668.8,743.5 671.4,744.0 674.1,744.5 676.7,744.7 679.3,745.0 681.9,744.5 684.6,744.1 687.2,744.0 689.8,744.0 692.5,744.0 695.1,743.4 697.7,742.8 700.3,742.2 703.0,741.3 705.6,740.4 708.2,740.3 710.9,740.2 713.5,739.3 716.1,738.4 718.7,738.2 721.4,737.8 724.0,737.2 726.6,736.6 729.3,735.9 731.9,735.1 734.5,734.2 737.1,733.6 739.8,733.2 742.4,732.8 745.0,732.3 747.6,731.9 750.3,731.5 752.9,729.9 755.5,728.5 758.2,727.1 760.8,725.5 763.4,725.0 766.0,724.9 768.7,724.9 771.3,724.3 773.9,723.7 776.6,723.2 779.2,722.6 781.8,722.5 784.4,722.3 787.1,721.2 789.7,720.0 792.3,719.4 794.9,714.8 797.6,704.9 800.2,703.7 802.8,702.1 805.5,703.1 808.1,704.7 810.7,704.5 813.3,703.6 816.0,702.7 818.6,702.0"/>
<path class="ln" id="s-cellphone" stroke="#020254" stroke-width="6.9" d="M159.0,898.5 161.6,901.0 164.3,903.9 166.9,908.0 169.5,912.1 172.1,915.8 174.8,921.9 177.4,924.9 180.0,927.9 182.7,930.5 185.3,933.1 187.9,939.3 190.5,945.5 193.2,945.5 195.8,945.5 198.4,945.8 201.0,948.5 203.7,948.7 206.3,949.0 208.9,948.9 211.6,948.9 214.2,949.4 216.8,949.5 219.4,949.1 222.1,948.7 224.7,948.6 227.3,949.0 230.0,949.8 232.6,950.6 235.2,950.9 237.8,951.3 240.5,950.8 243.1,950.3 245.7,949.8 248.3,949.3 251.0,949.2 253.6,949.5 256.2,950.1 258.9,950.7 261.5,950.6 264.1,950.4 266.7,951.3 269.4,952.2 272.0,952.7 274.6,953.2 277.3,953.8 279.9,954.3 282.5,954.3 285.1,954.2 287.8,954.3 290.4,954.5 293.0,954.4 295.7,954.4 298.3,954.4 300.9,954.3 303.5,954.2 306.2,954.6 308.8,955.5 311.4,956.3 314.0,956.8 316.7,957.2 319.3,958.0 321.9,958.7 324.6,959.4 327.2,959.7 329.8,959.9 332.4,960.2 335.1,960.2 337.7,960.1 340.3,960.5 343.0,960.8 345.6,961.0 348.2,961.1 350.8,961.3 353.5,961.6 356.1,961.3 358.7,961.1 361.3,961.4 364.0,961.7 366.6,961.7 369.2,961.8 371.9,961.9 374.5,961.9 377.1,961.9 379.7,961.8 382.4,962.0 385.0,962.2 387.6,962.1 390.3,961.9 392.9,962.0 395.5,962.1 398.1,962.6 400.8,963.0 403.4,962.8 406.0,962.6 408.6,962.7 411.3,962.9 413.9,962.6 416.5,962.3 419.2,962.4 421.8,962.3 424.4,962.3 427.0,962.2 429.7,962.0 432.3,961.7 434.9,961.5 437.6,961.4 440.2,961.2 442.8,961.0 445.4,960.9 448.1,960.8 450.7,961.1 453.3,961.3 456.0,961.3 458.6,961.2 461.2,961.0 463.8,960.8 466.5,963.2 469.1,965.6 471.7,966.4 474.3,967.2 477.0,968.5 479.6,969.0 482.2,968.8 484.9,968.7 487.5,969.3 490.1,969.7 492.7,969.3 495.4,968.9 498.0,969.3 500.6,969.7 503.3,974.3 505.9,974.4 508.5,974.9 511.1,975.5 513.8,975.8 516.4,976.8 519.0,978.0 521.6,978.2 524.3,978.5 526.9,978.8 529.5,979.0 532.2,979.1 534.8,979.4 537.4,979.1 540.0,978.8 542.7,978.6 545.3,978.3 547.9,978.0 550.6,978.7 553.2,979.3 555.8,980.6 558.4,980.1 561.1,979.9 563.7,979.7 566.3,980.0 569.0,980.4 571.6,981.0 574.2,981.6 576.8,982.3 579.5,982.8 582.1,983.6 584.7,984.4 587.3,985.0 590.0,985.5 592.6,985.7 595.2,985.9 597.9,986.6 600.5,987.3 603.1,988.1 605.7,988.3 608.4,988.0 611.0,987.6 613.6,987.6 616.3,987.5 618.9,987.4 621.5,990.1 624.1,993.1 626.8,994.5 629.4,995.6 632.0,996.7 634.6,998.2 637.3,999.7 639.9,1000.7 642.5,1001.6 645.2,1000.6 647.8,999.5 650.4,997.8 653.0,996.4 655.7,995.7 658.3,995.0 660.9,993.9 663.6,995.7 666.2,997.5 668.8,997.5 671.4,998.1 674.1,998.8 676.7,998.6 679.3,999.3 681.9,1000.8 684.6,1002.2 687.2,1002.8 689.8,1003.4 692.5,1004.0 695.1,1004.6 697.7,1011.6 700.3,1022.9 703.0,1024.2 705.6,1025.5 708.2,1027.1 710.9,1028.1 713.5,1027.5 716.1,1026.9 718.7,1026.2 721.4,1026.4 724.0,1026.3 726.6,1026.2 729.3,1026.8 731.9,1026.8 734.5,1026.5 737.1,1026.1 739.8,1026.3 742.4,1026.5 745.0,1026.4 747.6,1026.4 750.3,1026.5 752.9,1030.9 755.5,1031.2 758.2,1031.6 760.8,1031.9 763.4,1031.9 766.0,1031.8 768.7,1031.7 771.3,1032.1 773.9,1032.4 776.6,1032.8 779.2,1033.2 781.8,1032.7 784.4,1032.2 787.1,1032.0 789.7,1032.8 792.3,1033.2 794.9,1033.6 797.6,1033.3 800.2,1033.0 802.8,1025.4 805.5,1024.6 808.1,1024.0 810.7,1023.5 813.3,1024.8 816.0,1024.6 818.6,1024.5"/>
<path class="ln" id="s-tvs" stroke="#3d8bc8" stroke-width="6.7" d="M159.0,898.5 161.6,901.6 164.3,904.8 166.9,908.1 169.5,910.7 172.1,913.2 174.8,915.6 177.4,918.7 180.0,921.8 182.7,924.8 185.3,927.7 187.9,929.5 190.5,931.3 193.2,932.9 195.8,935.9 198.4,938.8 201.0,941.7 203.7,944.9 206.3,947.0 208.9,949.1 211.6,951.3 214.2,953.8 216.8,956.3 219.4,958.1 222.1,959.9 224.7,965.4 227.3,967.6 230.0,969.6 232.6,971.6 235.2,973.5 237.8,975.4 240.5,977.7 243.1,980.1 245.7,982.2 248.3,984.2 251.0,986.6 253.6,989.1 256.2,991.6 258.9,994.2 261.5,996.9 264.1,999.7 266.7,1002.7 269.4,1005.7 272.0,1007.6 274.6,1009.5 277.3,1011.6 279.9,1013.6 282.5,1016.5 285.1,1019.4 287.8,1021.5 290.4,1023.5 293.0,1027.9 295.7,1032.4 298.3,1036.4 300.9,1037.0 303.5,1037.8 306.2,1038.6 308.8,1039.4 311.4,1040.2 314.0,1041.9 316.7,1043.6 319.3,1045.1 321.9,1046.6 324.6,1048.5 327.2,1051.1 329.8,1053.4 332.4,1055.7 335.1,1058.3 337.7,1060.5 340.3,1062.8 343.0,1065.1 345.6,1065.9 348.2,1066.6 350.8,1067.0 353.5,1067.4 356.1,1069.5 358.7,1071.6 361.3,1073.5 364.0,1076.7 366.6,1080.2 369.2,1083.7 371.9,1088.4 374.5,1093.1 377.1,1098.3 379.7,1100.7 382.4,1102.6 385.0,1104.6 387.6,1106.7 390.3,1108.9 392.9,1110.7 395.5,1112.5 398.1,1114.5 400.8,1115.5 403.4,1116.6 406.0,1117.8 408.6,1118.6 411.3,1119.3 413.9,1120.7 416.5,1122.0 419.2,1123.8 421.8,1125.7 424.4,1126.9 427.0,1128.0 429.7,1129.5 432.3,1131.6 434.9,1133.8 437.6,1136.0 440.2,1137.5 442.8,1139.1 445.4,1141.0 448.1,1142.9 450.7,1144.5 453.3,1146.0 456.0,1148.2 458.6,1151.1 461.2,1153.3 463.8,1155.5 466.5,1158.0 469.1,1159.2 471.7,1160.5 474.3,1161.8 477.0,1163.0 479.6,1163.7 482.2,1164.3 484.9,1165.0 487.5,1165.4 490.1,1165.8 492.7,1166.4 495.4,1167.1 498.0,1167.9 500.6,1168.7 503.3,1169.4 505.9,1170.2 508.5,1170.7 511.1,1171.2 513.8,1172.2 516.4,1173.3 519.0,1173.7 521.6,1174.2 524.3,1174.8 526.9,1175.5 529.5,1175.9 532.2,1176.5 534.8,1177.3 537.4,1178.2 540.0,1178.8 542.7,1179.3 545.3,1179.8 547.9,1180.2 550.6,1181.0 553.2,1181.8 555.8,1182.1 558.4,1182.4 561.1,1183.0 563.7,1183.6 566.3,1183.9 569.0,1184.2 571.6,1184.0 574.2,1183.8 576.8,1184.4 579.5,1184.9 582.1,1185.1 584.7,1185.4 587.3,1185.7 590.0,1186.0 592.6,1186.5 595.2,1187.0 597.9,1187.5 600.5,1187.9 603.1,1188.2 605.7,1188.6 608.4,1188.9 611.0,1189.2 613.6,1189.7 616.3,1190.3 618.9,1190.3 621.5,1190.2 624.1,1190.7 626.8,1191.1 629.4,1191.0 632.0,1191.1 634.6,1191.7 637.3,1192.4 639.9,1192.3 642.5,1192.1 645.2,1192.4 647.8,1192.7 650.4,1192.8 653.0,1193.0 655.7,1193.4 658.3,1193.8 660.9,1194.1 663.6,1194.3 666.2,1194.7 668.8,1195.0 671.4,1195.7 674.1,1196.3 676.7,1196.2 679.3,1196.2 681.9,1197.0 684.6,1197.7 687.2,1198.2 689.8,1198.8 692.5,1198.9 695.1,1199.0 697.7,1198.9 700.3,1198.8 703.0,1199.0 705.6,1199.3 708.2,1199.1 710.9,1199.0 713.5,1199.5 716.1,1199.9 718.7,1200.1 721.4,1200.4 724.0,1200.7 726.6,1201.0 729.3,1200.9 731.9,1200.7 734.5,1200.9 737.1,1201.1 739.8,1201.5 742.4,1202.0 745.0,1202.0 747.6,1202.0 750.3,1202.4 752.9,1202.7 755.5,1202.5 758.2,1202.3 760.8,1202.6 763.4,1203.0 766.0,1203.0 768.7,1203.1 771.3,1203.4 773.9,1203.6 776.6,1203.9 779.2,1204.3 781.8,1204.0 784.4,1203.8 787.1,1204.4 789.7,1204.9 792.3,1204.8 794.9,1204.7 797.6,1204.7 800.2,1204.7 802.8,1205.0 805.5,1205.2 808.1,1205.1 810.7,1204.9 813.3,1205.0 816.0,1205.0 818.6,1205.2"/>
<path class="ln" id="s-software" stroke="#3d8bc8" stroke-width="3.9" d="M159.0,898.5 161.6,901.1 164.3,903.6 166.9,906.0 169.5,908.1 172.1,909.8 174.8,911.5 177.4,915.5 180.0,918.2 182.7,920.6 185.3,921.9 187.9,922.6 190.5,923.4 193.2,925.5 195.8,927.6 198.4,929.0 201.0,930.3 203.7,931.2 206.3,932.1 208.9,929.4 211.6,933.1 214.2,937.8 216.8,929.8 219.4,930.9 222.1,932.1 224.7,937.7 227.3,939.7 230.0,940.8 232.6,944.5 235.2,948.2 237.8,949.9 240.5,951.2 243.1,955.7 245.7,958.1 248.3,960.4 251.0,959.9 253.6,959.4 256.2,961.5 258.9,963.6 261.5,966.0 264.1,968.4 266.7,971.9 269.4,975.3 272.0,979.0 274.6,980.8 277.3,982.0 279.9,983.2 282.5,984.6 285.1,986.4 287.8,987.6 290.4,988.8 293.0,988.6 295.7,988.5 298.3,988.9 300.9,989.4 303.5,990.6 306.2,991.8 308.8,993.8 311.4,995.7 314.0,997.0 316.7,998.3 319.3,999.2 321.9,1000.1 324.6,1001.3 327.2,1001.9 329.8,1002.6 332.4,1003.3 335.1,1004.2 337.7,1004.6 340.3,1004.0 343.0,1003.3 345.6,1005.3 348.2,1007.2 350.8,1008.8 353.5,1010.4 356.1,1011.7 358.7,1013.0 361.3,1013.8 364.0,1014.6 366.6,1015.8 369.2,1017.0 371.9,1017.8 374.5,1018.6 377.1,1019.6 379.7,1020.7 382.4,1021.3 385.0,1021.8 387.6,1022.5 390.3,1023.2 392.9,1024.3 395.5,1027.7 398.1,1030.8 400.8,1031.0 403.4,1031.1 406.0,1031.2 408.6,1031.0 411.3,1030.2 413.9,1030.6 416.5,1031.0 419.2,1030.3 421.8,1030.9 424.4,1031.6 427.0,1032.3 429.7,1033.3 432.3,1032.7 434.9,1032.0 437.6,1031.3 440.2,1030.8 442.8,1030.9 445.4,1031.2 448.1,1031.5 450.7,1030.7 453.3,1031.2 456.0,1032.8 458.6,1034.5 461.2,1036.5 463.8,1038.6 466.5,1037.1 469.1,1035.6 471.7,1036.4 474.3,1037.2 477.0,1038.3 479.6,1039.3 482.2,1043.1 484.9,1046.8 487.5,1050.6 490.1,1054.3 492.7,1053.3 495.4,1052.4 498.0,1051.8 500.6,1055.2 503.3,1057.6 505.9,1056.1 508.5,1056.3 511.1,1058.4 513.8,1059.6 516.4,1060.8 519.0,1060.5 521.6,1060.3 524.3,1060.0 526.9,1059.6 529.5,1063.2 532.2,1061.4 534.8,1059.7 537.4,1058.0 540.0,1060.4 542.7,1062.8 545.3,1064.1 547.9,1065.6 550.6,1067.6 553.2,1069.3 555.8,1071.1 558.4,1072.8 561.1,1071.3 563.7,1069.8 566.3,1071.0 569.0,1072.1 571.6,1073.2 574.2,1074.3 576.8,1075.6 579.5,1076.9 582.1,1078.2 584.7,1077.4 587.3,1076.2 590.0,1075.0 592.6,1077.5 595.2,1080.0 597.9,1080.5 600.5,1081.0 603.1,1081.9 605.7,1082.9 608.4,1082.4 611.0,1081.8 613.6,1080.8 616.3,1079.8 618.9,1080.6 621.5,1081.4 624.1,1080.9 626.8,1080.5 629.4,1080.7 632.0,1081.0 634.6,1081.5 637.3,1081.9 639.9,1081.9 642.5,1081.9 645.2,1080.9 647.8,1080.9 650.4,1082.1 653.0,1081.5 655.7,1079.7 658.3,1080.7 660.9,1082.4 663.6,1084.0 666.2,1084.8 668.8,1085.6 671.4,1084.9 674.1,1087.9 676.7,1089.6 679.3,1089.3 681.9,1090.1 684.6,1091.0 687.2,1092.2 689.8,1093.4 692.5,1094.5 695.1,1094.7 697.7,1095.4 700.3,1096.2 703.0,1095.1 705.6,1094.0 708.2,1092.7 710.9,1091.4 713.5,1093.9 716.1,1096.4 718.7,1095.1 721.4,1093.8 724.0,1093.2 726.6,1097.1 729.3,1097.3 731.9,1097.6 734.5,1098.1 737.1,1097.7 739.8,1097.3 742.4,1096.9 745.0,1097.4 747.6,1097.9 750.3,1097.3 752.9,1096.7 755.5,1098.9 758.2,1101.2 760.8,1102.4 763.4,1103.7 766.0,1105.6 768.7,1103.7 771.3,1105.6 773.9,1107.5 776.6,1108.3 779.2,1108.3 781.8,1109.6 784.4,1110.9 787.1,1111.5 789.7,1112.0 792.3,1113.3 794.9,1115.4 797.6,1116.7 800.2,1118.0 802.8,1117.9 805.5,1117.7 808.1,1120.7 810.7,1123.8 813.3,1122.5 816.0,1121.3 818.6,1119.2"/>
<path class="ln" id="s-toys" stroke="#020254" stroke-width="6.9" d="M159.0,898.5 161.6,899.0 164.3,899.9 166.9,900.9 169.5,902.3 172.1,902.8 174.8,903.3 177.4,905.0 180.0,906.6 182.7,907.6 185.3,908.7 187.9,909.2 190.5,911.1 193.2,914.0 195.8,918.1 198.4,917.6 201.0,917.1 203.7,918.3 206.3,919.4 208.9,918.9 211.6,918.4 214.2,918.4 216.8,921.7 219.4,924.7 222.1,920.9 224.7,922.0 227.3,923.0 230.0,925.6 232.6,928.1 235.2,935.4 237.8,938.4 240.5,941.3 243.1,946.1 245.7,946.9 248.3,947.7 251.0,948.7 253.6,949.3 256.2,949.4 258.9,949.6 261.5,949.8 264.1,950.1 266.7,951.7 269.4,953.4 272.0,955.1 274.6,956.9 277.3,958.5 279.9,960.1 282.5,961.9 285.1,968.3 287.8,964.9 290.4,961.6 293.0,963.6 295.7,965.7 298.3,967.2 300.9,968.7 303.5,970.7 306.2,972.7 308.8,974.3 311.4,975.8 314.0,977.5 316.7,979.1 319.3,981.5 321.9,983.1 324.6,984.0 327.2,985.0 329.8,986.8 332.4,987.7 335.1,987.9 337.7,988.1 340.3,988.6 343.0,989.2 345.6,990.6 348.2,992.0 350.8,992.5 353.5,993.0 356.1,994.0 358.7,995.0 361.3,996.4 364.0,996.9 366.6,996.4 369.2,996.0 371.9,996.5 374.5,996.9 377.1,998.0 379.7,999.1 382.4,1000.8 385.0,1002.5 387.6,1003.8 390.3,1005.1 392.9,1006.5 395.5,1007.8 398.1,1009.1 400.8,1009.6 403.4,1010.2 406.0,1010.9 408.6,1011.5 411.3,1012.1 413.9,1012.9 416.5,1013.8 419.2,1014.8 421.8,1015.8 424.4,1016.3 427.0,1015.9 429.7,1016.2 432.3,1017.1 434.9,1017.6 437.6,1020.5 440.2,1023.5 442.8,1023.3 445.4,1023.6 448.1,1023.9 450.7,1024.1 453.3,1024.3 456.0,1024.9 458.6,1025.6 461.2,1027.5 463.8,1029.5 466.5,1031.2 469.1,1032.2 471.7,1033.7 474.3,1035.2 477.0,1036.2 479.6,1037.2 482.2,1038.7 484.9,1040.2 487.5,1040.7 490.1,1041.1 492.7,1041.4 495.4,1041.6 498.0,1041.9 500.6,1042.1 503.3,1042.6 505.9,1043.7 508.5,1044.7 511.1,1045.7 513.8,1046.5 516.4,1046.5 519.0,1046.3 521.6,1046.1 524.3,1046.8 526.9,1048.4 529.5,1049.5 532.2,1050.6 534.8,1051.2 537.4,1050.7 540.0,1051.1 542.7,1051.6 545.3,1052.9 547.9,1054.1 550.6,1055.5 553.2,1056.1 555.8,1056.5 558.4,1057.0 561.1,1057.1 563.7,1057.3 566.3,1058.2 569.0,1059.1 571.6,1060.2 574.2,1061.4 576.8,1062.7 579.5,1063.4 582.1,1063.6 584.7,1063.7 587.3,1064.2 590.0,1065.9 592.6,1067.4 595.2,1068.9 597.9,1070.0 600.5,1071.0 603.1,1071.5 605.7,1071.6 608.4,1071.9 611.0,1072.1 613.6,1072.9 616.3,1073.6 618.9,1073.9 621.5,1074.2 624.1,1075.0 626.8,1076.3 629.4,1077.3 632.0,1078.3 634.6,1079.3 637.3,1080.0 639.9,1080.6 642.5,1081.1 645.2,1081.2 647.8,1081.7 650.4,1083.0 653.0,1084.0 655.7,1085.0 658.3,1086.0 660.9,1087.2 663.6,1088.5 666.2,1089.9 668.8,1091.4 671.4,1092.5 674.1,1093.7 676.7,1094.8 679.3,1095.8 681.9,1096.7 684.6,1097.6 687.2,1098.8 689.8,1099.6 692.5,1100.3 695.1,1100.9 697.7,1101.5 700.3,1102.1 703.0,1103.2 705.6,1104.2 708.2,1105.3 710.9,1106.4 713.5,1107.2 716.1,1107.9 718.7,1108.4 721.4,1108.9 724.0,1110.1 726.6,1111.1 729.3,1111.4 731.9,1111.8 734.5,1113.2 737.1,1114.5 739.8,1115.0 742.4,1115.5 745.0,1116.6 747.6,1117.6 750.3,1118.3 752.9,1119.0 755.5,1119.6 758.2,1120.1 760.8,1120.3 763.4,1120.4 766.0,1120.9 768.7,1121.3 771.3,1122.0 773.9,1122.8 776.6,1123.8 779.2,1124.9 781.8,1125.0 784.4,1125.2 787.1,1125.6 789.7,1126.2 792.3,1126.8 794.9,1127.4 797.6,1128.4 800.2,1129.4 802.8,1129.9 805.5,1129.5 808.1,1129.3 810.7,1129.2 813.3,1128.4 816.0,1127.5 818.6,1127.6"/>
<path class="ln" id="s-newcars" stroke="#3d8bc8" stroke-width="6.4" d="M159.0,898.5 161.6,898.6 164.3,898.3 166.9,898.1 169.5,898.0 172.1,898.0 174.8,897.9 177.4,897.9 180.0,897.9 182.7,898.6 185.3,899.2 187.9,899.3 190.5,899.3 193.2,900.1 195.8,900.6 198.4,900.4 201.0,900.1 203.7,900.6 206.3,901.7 208.9,902.3 211.6,902.8 214.2,903.5 216.8,902.4 219.4,901.7 222.1,903.8 224.7,905.4 227.3,904.6 230.0,904.3 232.6,904.3 235.2,904.2 237.8,904.1 240.5,903.8 243.1,903.5 245.7,904.1 248.3,904.7 251.0,906.0 253.6,907.3 256.2,908.2 258.9,908.4 261.5,909.3 264.1,910.3 266.7,910.8 269.4,910.8 272.0,910.8 274.6,910.9 277.3,911.1 279.9,911.2 282.5,911.3 285.1,911.3 287.8,910.7 290.4,910.1 293.0,910.0 295.7,909.9 298.3,909.1 300.9,908.7 303.5,909.3 306.2,909.8 308.8,910.0 311.4,910.2 314.0,909.5 316.7,908.8 319.3,909.1 321.9,909.3 324.6,908.4 327.2,909.0 329.8,910.9 332.4,912.7 335.1,911.7 337.7,910.6 340.3,909.3 343.0,907.9 345.6,908.6 348.2,909.4 350.8,909.7 353.5,910.1 356.1,909.7 358.7,909.3 361.3,909.8 364.0,910.4 366.6,910.6 369.2,910.9 371.9,911.4 374.5,912.0 377.1,911.7 379.7,911.4 382.4,911.1 385.0,910.8 387.6,910.8 390.3,910.9 392.9,910.7 395.5,910.9 398.1,911.4 400.8,911.8 403.4,912.2 406.0,912.6 408.6,912.9 411.3,913.2 413.9,912.9 416.5,912.6 419.2,913.2 421.8,914.1 424.4,914.2 427.0,914.3 429.7,915.4 432.3,917.5 434.9,918.8 437.6,920.0 440.2,918.8 442.8,917.6 445.4,917.3 448.1,917.0 450.7,915.4 453.3,913.7 456.0,912.1 458.6,910.5 461.2,915.7 463.8,912.4 466.5,908.4 469.1,904.5 471.7,905.4 474.3,906.2 477.0,906.9 479.6,907.3 482.2,908.0 484.9,908.7 487.5,908.9 490.1,909.1 492.7,908.6 495.4,908.0 498.0,907.4 500.6,906.7 503.3,904.9 505.9,903.1 508.5,901.4 511.1,900.0 513.8,898.6 516.4,897.2 519.0,896.1 521.6,896.0 524.3,895.6 526.9,895.1 529.5,895.0 532.2,894.9 534.8,894.9 537.4,894.9 540.0,894.2 542.7,893.4 545.3,893.5 547.9,893.6 550.6,893.2 553.2,892.8 555.8,892.9 558.4,892.9 561.1,892.5 563.7,892.1 566.3,891.6 569.0,891.1 571.6,890.6 574.2,890.1 576.8,889.8 579.5,889.5 582.1,889.2 584.7,889.0 587.3,889.0 590.0,888.9 592.6,889.5 595.2,890.1 597.9,890.1 600.5,890.2 603.1,890.6 605.7,890.3 608.4,890.0 611.0,889.7 613.6,889.1 616.3,888.5 618.9,887.8 621.5,887.4 624.1,887.5 626.8,887.6 629.4,887.2 632.0,888.2 634.6,889.8 637.3,889.3 639.9,888.5 642.5,887.6 645.2,887.7 647.8,887.9 650.4,888.5 653.0,888.8 655.7,888.9 658.3,888.9 660.9,889.2 663.6,889.4 666.2,889.5 668.8,889.5 671.4,888.8 674.1,888.1 676.7,887.8 679.3,887.5 681.9,886.9 684.6,886.3 687.2,886.4 689.8,886.4 692.5,885.8 695.1,885.2 697.7,885.9 700.3,886.5 703.0,886.9 705.6,887.3 708.2,887.9 710.9,888.6 713.5,889.5 716.1,889.4 718.7,888.8 721.4,888.3 724.0,888.3 726.6,889.4 729.3,890.4 731.9,891.4 734.5,891.9 737.1,890.7 739.8,890.1 742.4,889.5 745.0,888.6 747.6,888.4 750.3,888.2 752.9,888.1 755.5,888.4 758.2,888.4 760.8,888.1 763.4,887.9 766.0,887.6 768.7,887.4 771.3,887.9 773.9,888.4 776.6,888.6 779.2,888.9 781.8,888.8 784.4,888.8 787.1,889.4 789.7,889.9 792.3,889.5 794.9,889.2 797.6,889.2 800.2,889.3 802.8,887.8 805.5,886.3 808.1,885.8 810.7,885.3 813.3,884.2 816.0,883.2 818.6,882.9"/>
<path class="ln" id="s-household" stroke="#020254" stroke-width="6.9" d="M159.0,898.5 161.6,897.7 164.3,897.1 166.9,896.1 169.5,895.1 172.1,893.9 174.8,892.8 177.4,892.6 180.0,892.4 182.7,892.3 185.3,892.2 187.9,892.3 190.5,892.4 193.2,891.9 195.8,891.5 198.4,891.3 201.0,891.1 203.7,891.3 206.3,891.9 208.9,891.7 211.6,891.6 214.2,891.9 216.8,892.2 219.4,892.4 222.1,892.6 224.7,893.0 227.3,893.3 230.0,893.7 232.6,894.2 235.2,894.7 237.8,895.3 240.5,895.5 243.1,895.7 245.7,895.9 248.3,896.2 251.0,896.7 253.6,897.1 256.2,897.9 258.9,898.7 261.5,899.4 264.1,900.0 266.7,900.9 269.4,901.7 272.0,902.3 274.6,902.1 277.3,902.5 279.9,902.8 282.5,902.8 285.1,902.7 287.8,902.3 290.4,901.9 293.0,902.1 295.7,902.2 298.3,902.0 300.9,901.9 303.5,902.0 306.2,902.1 308.8,901.9 311.4,901.8 314.0,901.7 316.7,901.7 319.3,901.5 321.9,901.3 324.6,901.1 327.2,901.0 329.8,900.8 332.4,900.6 335.1,900.7 337.7,900.6 340.3,900.4 343.0,900.2 345.6,899.8 348.2,899.4 350.8,899.2 353.5,899.0 356.1,898.5 358.7,898.0 361.3,897.9 364.0,897.9 366.6,898.0 369.2,898.0 371.9,898.0 374.5,898.1 377.1,898.0 379.7,898.0 382.4,898.2 385.0,898.3 387.6,898.7 390.3,899.1 392.9,899.1 395.5,899.2 398.1,899.3 400.8,899.2 403.4,899.1 406.0,898.9 408.6,898.9 411.3,898.8 413.9,898.6 416.5,898.4 419.2,898.2 421.8,897.3 424.4,896.1 427.0,894.8 429.7,894.0 432.3,893.2 434.9,893.0 437.6,892.8 440.2,893.0 442.8,893.2 445.4,893.3 448.1,893.3 450.7,893.0 453.3,892.8 456.0,893.0 458.6,894.1 461.2,894.9 463.8,895.7 466.5,896.6 469.1,897.6 471.7,898.1 474.3,898.7 477.0,899.6 479.6,900.5 482.2,901.6 484.9,902.7 487.5,903.4 490.1,903.7 492.7,903.9 495.4,904.1 498.0,904.9 500.6,905.6 503.3,905.6 505.9,904.8 508.5,904.4 511.1,903.9 513.8,903.9 516.4,904.0 519.0,903.5 521.6,903.2 524.3,902.8 526.9,902.3 529.5,902.2 532.2,902.1 534.8,901.8 537.4,901.8 540.0,901.5 542.7,901.2 545.3,901.2 547.9,901.2 550.6,901.3 553.2,901.4 555.8,901.5 558.4,901.6 561.1,902.0 563.7,902.4 566.3,902.4 569.0,902.3 571.6,902.9 574.2,903.6 576.8,903.6 579.5,903.6 582.1,904.2 584.7,904.9 587.3,905.6 590.0,906.4 592.6,906.6 595.2,906.8 597.9,907.4 600.5,907.9 603.1,908.7 605.7,909.1 608.4,909.2 611.0,909.4 613.6,910.0 616.3,910.7 618.9,910.7 621.5,910.1 624.1,909.5 626.8,909.4 629.4,909.5 632.0,909.6 634.6,909.9 637.3,910.1 639.9,910.5 642.5,910.8 645.2,911.0 647.8,911.2 650.4,909.8 653.0,909.8 655.7,909.8 658.3,909.8 660.9,910.2 663.6,910.7 666.2,911.0 668.8,911.2 671.4,911.9 674.1,912.6 676.7,912.9 679.3,913.3 681.9,913.2 684.6,913.2 687.2,913.1 689.8,913.0 692.5,913.2 695.1,913.4 697.7,913.7 700.3,913.9 703.0,914.6 705.6,915.3 708.2,915.5 710.9,915.8 713.5,915.7 716.1,915.7 718.7,915.6 721.4,915.5 724.0,915.4 726.6,914.8 729.3,914.1 731.9,913.3 734.5,912.8 737.1,912.4 739.8,911.7 742.4,911.0 745.0,910.5 747.6,910.3 750.3,909.9 752.9,909.4 755.5,909.3 758.2,909.0 760.8,908.8 763.4,908.6 766.0,907.7 768.7,906.8 771.3,906.4 773.9,906.0 776.6,905.9 779.2,905.9 781.8,906.1 784.4,906.3 787.1,906.5 789.7,906.1 792.3,905.6 794.9,905.2 797.6,904.4 800.2,901.7 802.8,899.5 805.5,898.3 808.1,896.8 810.7,897.6 813.3,898.6 816.0,897.9 818.6,896.8"/>
<path class="ln" id="s-clothing" stroke="#3d8bc8" stroke-width="6.4" d="M159.0,898.5 161.6,898.9 164.3,899.8 166.9,899.9 169.5,900.0 172.1,899.6 174.8,899.3 177.4,900.3 180.0,901.4 182.7,901.4 185.3,901.4 187.9,902.6 190.5,903.7 193.2,904.3 195.8,905.4 198.4,906.6 201.0,907.8 203.7,908.9 206.3,909.4 208.9,910.4 211.6,911.4 214.2,912.0 216.8,912.5 219.4,912.3 222.1,912.2 224.7,911.4 227.3,910.6 230.0,911.0 232.6,912.6 235.2,912.9 237.8,913.3 240.5,913.7 243.1,914.1 245.7,915.2 248.3,917.0 251.0,918.2 253.6,919.4 256.2,921.3 258.9,923.2 261.5,924.2 264.1,923.0 266.7,922.4 269.4,922.3 272.0,921.9 274.6,921.6 277.3,921.6 279.9,921.6 282.5,921.9 285.1,922.2 287.8,922.6 290.4,923.0 293.0,922.6 295.7,922.1 298.3,922.3 300.9,923.1 303.5,923.2 306.2,923.3 308.8,922.9 311.4,922.5 314.0,923.5 316.7,924.4 319.3,925.2 321.9,926.0 324.6,926.0 327.2,925.2 329.8,925.3 332.4,925.5 335.1,925.0 337.7,925.6 340.3,925.8 343.0,926.0 345.6,927.6 348.2,929.2 350.8,931.2 353.5,929.5 356.1,928.4 358.7,927.3 361.3,926.2 364.0,925.8 366.6,924.8 369.2,923.7 371.9,923.5 374.5,923.3 377.1,923.7 379.7,924.2 382.4,924.6 385.0,925.1 387.6,926.5 390.3,927.9 392.9,928.7 395.5,929.5 398.1,929.6 400.8,928.3 403.4,927.5 406.0,926.7 408.6,926.5 411.3,926.3 413.9,926.5 416.5,926.8 419.2,927.8 421.8,927.3 424.4,926.8 427.0,926.3 429.7,926.5 432.3,926.6 434.9,926.7 437.6,927.5 440.2,928.7 442.8,930.0 445.4,923.4 448.1,923.4 450.7,923.9 453.3,924.3 456.0,923.9 458.6,923.2 461.2,923.4 463.8,923.6 466.5,923.6 469.1,925.3 471.7,924.3 474.3,923.2 477.0,923.0 479.6,923.5 482.2,924.4 484.9,925.2 487.5,925.5 490.1,925.9 492.7,926.5 495.4,927.1 498.0,926.7 500.6,926.3 503.3,926.1 505.9,925.9 508.5,925.8 511.1,925.8 513.8,924.9 516.4,921.8 519.0,919.5 521.6,917.3 524.3,915.7 526.9,914.1 529.5,913.2 532.2,912.4 534.8,911.4 537.4,910.5 540.0,909.8 542.7,909.2 545.3,908.6 547.9,908.0 550.6,909.4 553.2,910.7 555.8,912.5 558.4,911.2 561.1,909.7 563.7,908.1 566.3,906.0 569.0,903.9 571.6,906.4 574.2,908.8 576.8,908.3 579.5,907.7 582.1,907.3 584.7,906.8 587.3,907.5 590.0,908.1 592.6,908.1 595.2,905.4 597.9,903.3 600.5,904.9 603.1,906.9 605.7,906.6 608.4,905.9 611.0,905.3 613.6,905.4 616.3,905.6 618.9,905.4 621.5,905.5 624.1,905.5 626.8,906.2 629.4,907.8 632.0,909.3 634.6,910.3 637.3,910.1 639.9,909.4 642.5,908.6 645.2,908.8 647.8,909.5 650.4,909.0 653.0,908.7 655.7,909.8 658.3,910.9 660.9,910.8 663.6,909.4 666.2,908.5 668.8,908.9 671.4,909.9 674.1,910.9 676.7,910.4 679.3,909.9 681.9,909.7 684.6,909.4 687.2,909.2 689.8,908.9 692.5,908.6 695.1,908.3 697.7,908.6 700.3,908.9 703.0,909.9 705.6,910.8 708.2,910.1 710.9,909.3 713.5,909.1 716.1,910.5 718.7,912.1 721.4,913.6 724.0,910.5 726.6,907.4 729.3,907.4 731.9,907.4 734.5,906.8 737.1,909.1 739.8,912.0 742.4,915.0 745.0,916.9 747.6,914.1 750.3,912.4 752.9,912.2 755.5,911.0 758.2,912.6 760.8,914.9 763.4,915.8 766.0,916.6 768.7,914.1 771.3,911.5 773.9,911.8 776.6,912.1 779.2,914.7 781.8,917.7 784.4,916.6 787.1,915.7 789.7,915.4 792.3,914.6 794.9,925.6 797.6,932.6 800.2,939.6 802.8,933.5 805.5,932.4 808.1,931.1 810.7,932.9 813.3,934.1 816.0,929.8 818.6,928.7"/>
</g>
<rect x="38" y="680.3" width="269" height="44" fill="#020254" stroke="#01012e" stroke-width="0.8"/>
<text x="47.42" y="708.4" font-size="21.95" fill="#fff" textLength="248.00" lengthAdjust="spacingAndGlyphs" stroke="#fff" stroke-width="0.4">Overall Inflation (54.6%)</text>
<g id="labels">
<text x="826.59" y="266.9" font-size="25.87" fill="#78130c" textLength="198.34" lengthAdjust="spacingAndGlyphs" stroke="#78130c" stroke-width="0.6">Hospital Services</text>
<text x="830.18" y="369.4" font-size="25.87" fill="#e83225" textLength="286.82" lengthAdjust="spacingAndGlyphs" stroke="#e83225" stroke-width="0.6">College Tuition and Fees</text>
<text x="828.58" y="429.7" font-size="26.16" fill="#78130c" textLength="219.23" lengthAdjust="spacingAndGlyphs" stroke="#78130c" stroke-width="0.6">College Textbooks</text>
<text x="828.99" y="536.2" font-size="25.73" fill="#e83225" textLength="252.94" lengthAdjust="spacingAndGlyphs" stroke="#e83225" stroke-width="0.6">Medical Care Services</text>
<text x="829.17" y="568.5" font-size="26.02" fill="#78130c" textLength="345.34" lengthAdjust="spacingAndGlyphs" stroke="#78130c" stroke-width="0.6">Childcare and Nursery School</text>
<text x="824.74" y="637.7" font-size="26.02" fill="#78130c" textLength="264.76" lengthAdjust="spacingAndGlyphs" stroke="#78130c" stroke-width="0.6">Average Hourly Wages</text>
<text x="825.51" y="681.2" font-size="25.73" fill="#e83225" textLength="99.76" lengthAdjust="spacingAndGlyphs" stroke="#e83225" stroke-width="0.6">Housing</text>
<text x="825.58" y="706.9" font-size="26.02" fill="#78130c" textLength="238.71" lengthAdjust="spacingAndGlyphs" stroke="#78130c" stroke-width="0.6">Food and Beverages</text>
<text x="830.22" y="884.9" font-size="25.73" fill="#3d8bc8" textLength="112.79" lengthAdjust="spacingAndGlyphs" stroke="#3d8bc8" stroke-width="0.6">New Cars</text>
<text x="828.45" y="920.8" font-size="25.87" fill="#0a0a32" textLength="267.29" lengthAdjust="spacingAndGlyphs" stroke="#0a0a32" stroke-width="0.6">Household Furnishings</text>
<text x="829.23" y="948.2" font-size="25.73" fill="#3d8bc8" textLength="101.87" lengthAdjust="spacingAndGlyphs" stroke="#3d8bc8" stroke-width="0.6">Clothing</text>
<text x="826.49" y="1044.4" font-size="26.02" fill="#0a0a32" textLength="221.95" lengthAdjust="spacingAndGlyphs" stroke="#0a0a32" stroke-width="0.6">Cellphone Services</text>
<text x="834.03" y="1121.8" font-size="26.02" fill="#3d8bc8" textLength="228.09" lengthAdjust="spacingAndGlyphs" stroke="#3d8bc8" stroke-width="0.6">Computer Software</text>
<text x="835.59" y="1147.5" font-size="26.16" fill="#0a0a32" textLength="53.17" lengthAdjust="spacingAndGlyphs" stroke="#0a0a32" stroke-width="0.6">Toys</text>
<text x="831.10" y="1218.4" font-size="26.16" fill="#3d8bc8" textLength="41.21" lengthAdjust="spacingAndGlyphs" stroke="#3d8bc8" stroke-width="0.6">TVs</text>
</g>
<g id="footer">
<text x="161.87" y="1352.9" font-size="31.25" fill="#2e2e2e" textLength="430.16" lengthAdjust="spacingAndGlyphs" stroke="#f4f4f4" stroke-width="0.55">Source: Bureau of Labor Statistics</text>
<text x="893.38" y="1348.0" font-size="26.31" fill="#5a5a5a" textLength="133.28" lengthAdjust="spacingAndGlyphs">Carpe Diem</text>
<path id="aei-swoosh" fill="#3d8bc8" d="M1022.9,1361.7 L1030.7,1352.2 L1060.5,1352.2 C1064,1352.2 1064.8,1350 1065.6,1346 L1066.8,1340.6 L1090,1340.6 L1088.2,1348.1 L1068.6,1348.1 C1066.2,1348.1 1065.2,1349.6 1064.5,1352.6 C1063.6,1357 1062,1359.6 1058,1359.7 L1030.7,1359.7 C1027.5,1359.9 1025,1360.9 1022.9,1361.7 Z"/>
<text id="aei" x="1034.2" y="1348.1" font-size="43.3" font-weight="bold" font-style="italic" fill="#3d8bc8" stroke="#3d8bc8" stroke-width="0.9" textLength="73.8" lengthAdjust="spacingAndGlyphs">AEI</text>
</g>
</svg>
</body>
</html>
